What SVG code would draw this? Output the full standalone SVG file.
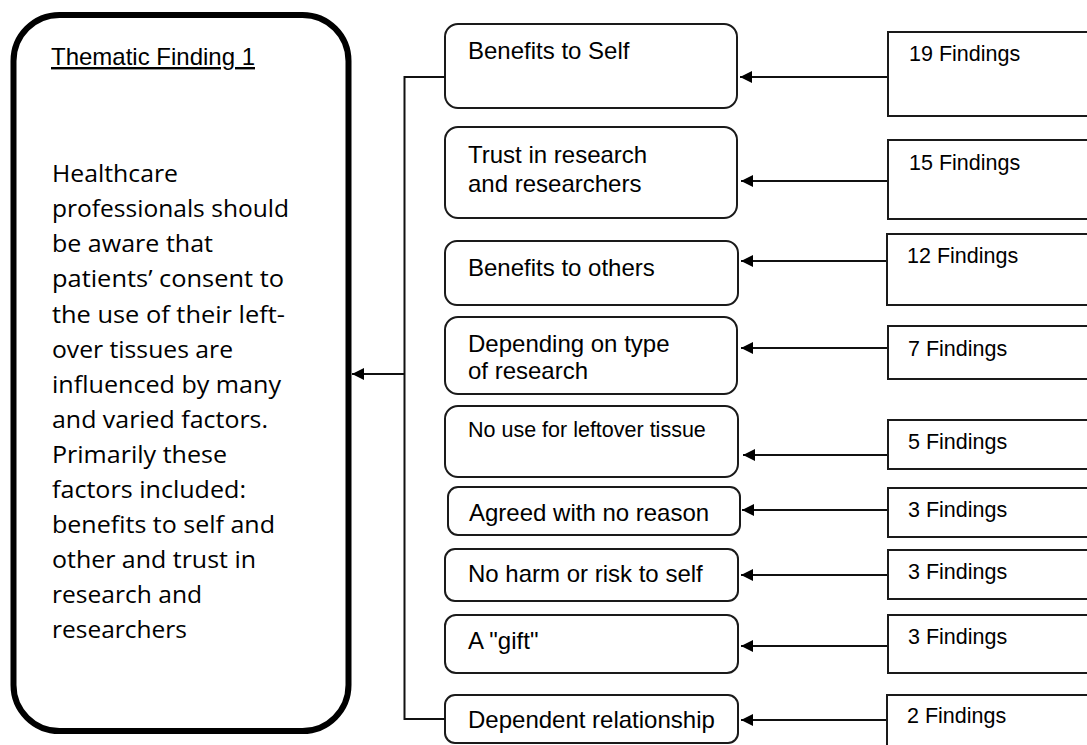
<svg xmlns="http://www.w3.org/2000/svg" width="1087" height="745" viewBox="0 0 1087 745">
  <style>
    .bg { fill: #ffffff; }
    .main { fill: #ffffff; stroke: #000000; stroke-width: 6; }
    .factor { fill: #ffffff; stroke: #1a1a1a; stroke-width: 2; }
    .count { fill: #ffffff; stroke: #1a1a1a; stroke-width: 2; }
    .lbl { font-family: "Liberation Sans", Arial, sans-serif; font-size: 24px; fill: #000000; }
    .lbl-sm { font-family: "Liberation Sans", Arial, sans-serif; font-size: 21.5px; fill: #000000; }
    .num { font-family: "Liberation Sans", Arial, sans-serif; font-size: 21.5px; fill: #000000; }
    .title { font-family: "Liberation Sans", Arial, sans-serif; font-size: 24px; fill: #000000; text-decoration: underline; }
    .body { font-family: "Open Sans", "Noto Sans", sans-serif; font-size: 24px; fill: #000000; }
    .wire { fill: none; stroke: #111111; stroke-width: 2; }
  </style>
  <defs>
    <marker id="arrow" viewBox="0 0 12 12" refX="12" refY="6" markerWidth="12" markerHeight="12" markerUnits="userSpaceOnUse" orient="auto">
      <path d="M0,0 L12,6 L0,12 Z" fill="#000000"/>
    </marker>
  </defs>

  <rect class="bg" x="0" y="0" width="1087" height="745"/>

  <!-- Summary box -->
  <g id="thematic-finding">
    <rect class="main" x="13.5" y="15" width="335" height="716" rx="46" ry="46"/>
    <text class="title" x="51" y="65" textLength="204" lengthAdjust="spacingAndGlyphs">Thematic Finding 1</text>
    <text class="body" x="52" y="182" textLength="126" lengthAdjust="spacingAndGlyphs">Healthcare</text>
    <text class="body" x="52" y="217" textLength="237" lengthAdjust="spacingAndGlyphs">professionals should</text>
    <text class="body" x="52" y="252" textLength="161" lengthAdjust="spacingAndGlyphs">be aware that</text>
    <text class="body" x="52" y="287" textLength="232" lengthAdjust="spacingAndGlyphs">patients’ consent to</text>
    <text class="body" x="52" y="322.5" textLength="233" lengthAdjust="spacingAndGlyphs">the use of their left-</text>
    <text class="body" x="52" y="357.5" textLength="181" lengthAdjust="spacingAndGlyphs">over tissues are</text>
    <text class="body" x="52" y="392.5" textLength="229" lengthAdjust="spacingAndGlyphs">influenced by many</text>
    <text class="body" x="52" y="427.5" textLength="216" lengthAdjust="spacingAndGlyphs">and varied factors.</text>
    <text class="body" x="52" y="462.5" textLength="175" lengthAdjust="spacingAndGlyphs">Primarily these</text>
    <text class="body" x="52" y="498" textLength="194" lengthAdjust="spacingAndGlyphs">factors included:</text>
    <text class="body" x="52" y="533" textLength="223" lengthAdjust="spacingAndGlyphs">benefits to self and</text>
    <text class="body" x="52" y="568" textLength="204" lengthAdjust="spacingAndGlyphs">other and trust in</text>
    <text class="body" x="52" y="603" textLength="150" lengthAdjust="spacingAndGlyphs">research and</text>
    <text class="body" x="52" y="638" textLength="135" lengthAdjust="spacingAndGlyphs">researchers</text>
  </g>

  <!-- Factor boxes -->
  <g id="factor-benefits-self">
    <rect class="factor" x="445" y="24" width="292" height="84" rx="13"/>
    <text class="lbl" x="468" y="59">Benefits to Self</text>
  </g>
  <g id="factor-trust">
    <rect class="factor" x="445" y="127" width="292" height="91" rx="13"/>
    <text class="lbl" x="468" y="163">Trust in research</text>
    <text class="lbl" x="468" y="192">and researchers</text>
  </g>
  <g id="factor-benefits-others">
    <rect class="factor" x="445" y="241" width="293" height="64" rx="12"/>
    <text class="lbl" x="468" y="276">Benefits to others</text>
  </g>
  <g id="factor-type-of-research">
    <rect class="factor" x="445" y="317" width="292" height="77" rx="13"/>
    <text class="lbl" x="468" y="352">Depending on type</text>
    <text class="lbl" x="468" y="379">of research</text>
  </g>
  <g id="factor-no-use">
    <rect class="factor" x="445" y="406" width="293" height="71" rx="13"/>
    <text class="lbl-sm" x="468" y="437">No use for leftover tissue</text>
  </g>
  <g id="factor-no-reason">
    <rect class="factor" x="448" y="487" width="292" height="48" rx="10"/>
    <text class="lbl" x="469" y="521">Agreed with no reason</text>
  </g>
  <g id="factor-no-harm">
    <rect class="factor" x="445" y="549" width="293" height="52" rx="10"/>
    <text class="lbl" x="468" y="582">No harm or risk to self</text>
  </g>
  <g id="factor-gift">
    <rect class="factor" x="445" y="615" width="293" height="58" rx="11"/>
    <text class="lbl" x="468" y="649">A "gift"</text>
  </g>
  <g id="factor-dependent">
    <rect class="factor" x="445" y="695" width="293" height="48" rx="10"/>
    <text class="lbl" x="468" y="728">Dependent relationship</text>
  </g>

  <!-- Finding counts (boxes run past the right edge) -->
  <g id="count-19">
    <rect class="count" x="888" y="32" width="220" height="84"/>
    <text class="num" x="909" y="61">19 Findings</text>
  </g>
  <g id="count-15">
    <rect class="count" x="888" y="140" width="220" height="79"/>
    <text class="num" x="909" y="170">15 Findings</text>
  </g>
  <g id="count-12">
    <rect class="count" x="887" y="234" width="220" height="71"/>
    <text class="num" x="907" y="263">12 Findings</text>
  </g>
  <g id="count-7">
    <rect class="count" x="888" y="326" width="220" height="53"/>
    <text class="num" x="908" y="356">7 Findings</text>
  </g>
  <g id="count-5">
    <rect class="count" x="888" y="420" width="220" height="49"/>
    <text class="num" x="908" y="449">5 Findings</text>
  </g>
  <g id="count-3a">
    <rect class="count" x="888" y="488" width="220" height="49"/>
    <text class="num" x="908" y="517">3 Findings</text>
  </g>
  <g id="count-3b">
    <rect class="count" x="888" y="550" width="220" height="49"/>
    <text class="num" x="908" y="579">3 Findings</text>
  </g>
  <g id="count-3c">
    <rect class="count" x="888" y="615" width="220" height="58"/>
    <text class="num" x="908" y="644">3 Findings</text>
  </g>
  <g id="count-2">
    <rect class="count" x="887" y="695" width="220" height="70"/>
    <text class="num" x="907" y="723">2 Findings</text>
  </g>

  <!-- Connectors -->
  <g id="connectors">
    <path class="wire" d="M445,77 H404.5 V719 H445"/>
    <line class="wire" x1="404.5" y1="374" x2="352" y2="374" marker-end="url(#arrow)"/>
    <line class="wire" x1="887" y1="77" x2="740" y2="77" marker-end="url(#arrow)"/>
    <line class="wire" x1="887" y1="181" x2="741" y2="181" marker-end="url(#arrow)"/>
    <line class="wire" x1="886" y1="261" x2="741" y2="261" marker-end="url(#arrow)"/>
    <line class="wire" x1="887" y1="348" x2="741" y2="348" marker-end="url(#arrow)"/>
    <line class="wire" x1="887" y1="455" x2="743" y2="455" marker-end="url(#arrow)"/>
    <line class="wire" x1="887" y1="510" x2="742" y2="510" marker-end="url(#arrow)"/>
    <line class="wire" x1="887" y1="575" x2="741" y2="575" marker-end="url(#arrow)"/>
    <line class="wire" x1="887" y1="646" x2="741" y2="646" marker-end="url(#arrow)"/>
    <line class="wire" x1="886" y1="720" x2="741" y2="720" marker-end="url(#arrow)"/>
  </g>
</svg>
